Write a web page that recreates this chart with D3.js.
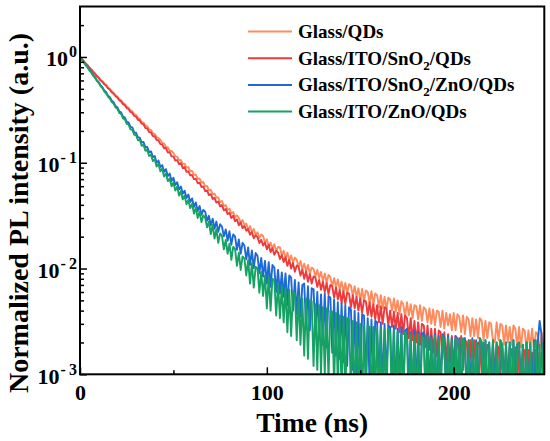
<!DOCTYPE html>
<html><head><meta charset="utf-8">
<script src="https://cdn.jsdelivr.net/npm/d3@7"></script>
<style>
body{margin:0;background:#fff}
text{font-family:"Liberation Serif","Times New Roman",serif;font-weight:bold;fill:#000}
</style>
</head><body>
<svg id="c" width="550" height="441"></svg>
<script>
// ---- data (time step 1 ns, 0..248 ns) ----
const times = d3.range(0, 249, 1);
const seriesNames = ["Glass/QDs", "Glass/ITO/SnO2/QDs", "Glass/ITO/SnO2/ZnO/QDs", "Glass/ITO/ZnO/QDs"];
const seriesColors = ["#FF8A5C", "#EE3A3C", "#1E69D8", "#16A262"];
const glassQDs = [
1.000,0.952,0.917,0.871,0.839,0.795,0.767,0.727,0.701,0.664,
0.643,0.611,0.590,0.561,0.544,0.515,0.499,0.473,0.459,0.435,
0.422,0.400,0.389,0.369,0.359,0.340,0.331,0.313,0.306,0.289,
0.283,0.266,0.260,0.244,0.240,0.225,0.221,0.207,0.204,0.190,
0.187,0.175,0.172,0.165,0.154,0.152,0.141,0.140,0.130,0.129,
0.124,0.115,0.114,0.106,0.106,0.097,0.098,0.090,0.091,0.083,
0.0835,0.0770,0.0772,0.0705,0.0710,0.0650,0.0660,0.0598,0.0603,0.0548,
0.0555,0.0502,0.0510,0.0468,0.0470,0.0425,0.0435,0.0390,0.0398,0.0358,
0.0368,0.0330,0.0342,0.0305,0.0318,0.0302,0.0270,0.0287,0.0258,0.0266,
0.0232,0.0252,0.0222,0.0236,0.0208,0.0220,0.0194,0.0210,0.0203,0.0175,
0.0189,0.0162,0.0176,0.0155,0.0170,0.0146,0.0160,0.0158,0.0134,0.0147,
0.0126,0.0141,0.0120,0.0133,0.0114,0.0127,0.0121,0.0104,0.0118,0.0099,
0.0111,0.0094,0.0108,0.0090,0.0102,0.0099,0.0084,0.0097,0.0081,0.0093,
0.0076,0.0090,0.0073,0.0087,0.0083,0.0068,0.0081,0.0066,0.0079,0.0064,
0.0075,0.0060,0.0073,0.0058,0.0071,0.0069,0.0055,0.0068,0.0054,0.0065,
0.0050,0.0064,0.0049,0.0062,0.0060,0.0047,0.0061,0.0045,0.0058,0.0056,
0.0043,0.0056,0.0042,0.0054,0.0041,0.0053,0.0051,0.0040,0.0052,0.0039,
0.0050,0.0037,0.0049,0.0046,0.0035,0.0048,0.0036,0.0046,0.0034,0.0045,
0.0044,0.0033,0.0045,0.0032,0.0043,0.0041,0.0031,0.0042,0.0030,0.0041,
0.0029,0.0040,0.0039,0.0028,0.0040,0.0027,0.0038,0.0029,0.0037,0.0026,
0.0038,0.0026,0.0037,0.0035,0.0025,0.0036,0.0024,0.0035,0.0033,0.0023,
0.0034,0.0023,0.0033,0.0022,0.0034,0.0032,0.0021,0.0032,0.0022,0.0031,
0.0030,0.0021,0.0020,0.0031,0.0021,0.0030,0.0029,0.0019,0.0029,0.0020,
0.0028,0.0019,0.0029,0.0027,0.0018,0.0028,0.0018,0.0027,0.0026,0.0017,
0.0026,0.0018,0.0027,0.0017,0.0025,0.0024,0.0016,0.0025,0.0019];
const itoSnO2 = [
1.000,0.953,0.914,0.868,0.834,0.791,0.760,0.721,0.694,0.657,
0.632,0.601,0.581,0.551,0.534,0.505,0.490,0.463,0.449,0.425,
0.413,0.390,0.380,0.358,0.350,0.329,0.322,0.302,0.296,0.277,
0.274,0.255,0.251,0.234,0.231,0.213,0.211,0.195,0.194,0.179,
0.178,0.164,0.163,0.150,0.149,0.137,0.138,0.125,0.126,0.115,
0.115,0.105,0.106,0.097,0.099,0.089,0.091,0.082,0.083,0.076,
0.0765,0.0700,0.0705,0.0640,0.0650,0.0590,0.0598,0.0540,0.0548,0.0495,
0.0505,0.0455,0.0465,0.0420,0.0430,0.0387,0.0398,0.0355,0.0366,0.0327,
0.0337,0.0300,0.0316,0.0280,0.0292,0.0256,0.0274,0.0241,0.0253,0.0228,
0.0236,0.0209,0.0221,0.0193,0.0206,0.0198,0.0174,0.0187,0.0165,0.0176,
0.0152,0.0168,0.0143,0.0156,0.0135,0.0147,0.0142,0.0123,0.0134,0.0115,
0.0128,0.0106,0.0121,0.0100,0.0113,0.0093,0.0107,0.0104,0.0086,0.0098,
0.0080,0.0094,0.0075,0.0089,0.0072,0.0084,0.0082,0.0067,0.0078,0.0063,
0.0075,0.0060,0.0073,0.0057,0.0070,0.0068,0.0053,0.0066,0.0051,0.0063,
0.0047,0.0061,0.0046,0.0059,0.0058,0.0043,0.0056,0.0042,0.0054,0.0040,
0.0052,0.0038,0.0050,0.0049,0.0036,0.0048,0.0035,0.0046,0.0033,0.0045,
0.0031,0.0044,0.0030,0.0043,0.0042,0.0029,0.0040,0.0028,0.0039,0.0027,
0.0038,0.0025,0.0037,0.0024,0.0036,0.0034,0.0022,0.0034,0.0021,0.0032,
0.0020,0.0031,0.0019,0.0030,0.0029,0.0018,0.0029,0.0017,0.0027,0.0016,
0.0027,0.0015,0.0026,0.0025,0.0014,0.0025,0.0013,0.0024,0.0013,0.0023,
0.0012,0.0023,0.0022,0.0012,0.0023,0.0011,0.0021,0.0020,0.0011,0.0021,
0.0010,0.0021,0.0011,0.0020,0.0019,0.0010,0.0020,0.0010,0.0019,0.0018,
0.0009,0.0019,0.0010,0.0019,0.0018,0.0009,0.0018,0.0010,0.0017,0.0009,
0.0018,0.0017,0.0009,0.0018,0.0008,0.0017,0.0009,0.0016,0.0017,0.0008,
0.0017,0.0009,0.0016,0.0008,0.0017,0.0016,0.0008,0.0016,0.0009];
const itoSnO2ZnO = [
1.000,0.943,0.898,0.844,0.806,0.755,0.722,0.675,0.647,0.603,
0.579,0.540,0.519,0.483,0.464,0.431,0.416,0.386,0.373,0.344,
0.335,0.306,0.300,0.273,0.269,0.243,0.241,0.218,0.216,0.194,
0.192,0.174,0.173,0.155,0.157,0.140,0.141,0.126,0.128,0.113,
0.116,0.100,0.105,0.091,0.095,0.082,0.087,0.075,0.079,0.067,
0.0720,0.0615,0.0655,0.0560,0.0595,0.0508,0.0545,0.0465,0.0500,0.0425,
0.0460,0.0382,0.0422,0.0350,0.0390,0.0322,0.0358,0.0345,0.0283,0.0315,
0.0256,0.0296,0.0238,0.0278,0.0222,0.0262,0.0248,0.0202,0.0234,0.0183,
0.0225,0.0168,0.0210,0.0200,0.0150,0.0188,0.0138,0.0175,0.0165,0.0122,
0.0158,0.0108,0.0148,0.0101,0.0140,0.0132,0.0090,0.0126,0.0084,0.0118,
0.0072,0.0115,0.0067,0.0108,0.0102,0.0060,0.0097,0.0058,0.0092,0.0054,
0.0090,0.0045,0.0086,0.0082,0.0040,0.0078,0.0037,0.0074,0.0035,0.0070,
0.0072,0.0028,0.0068,0.0026,0.0065,0.0064,0.0024,0.0060,0.0022,0.0057,
0.0019,0.0058,0.0018,0.0055,0.0053,0.0016,0.0051,0.0015,0.0048,0.0014,
0.0047,0.0013,0.0045,0.0012,0.0043,0.0041,0.0011,0.0040,0.0010,0.0038,
0.0009,0.0037,0.0036,0.0010,0.0034,0.0008,0.0033,0.0009,0.0032,0.0031,
0.0008,0.0031,0.0007,0.0030,0.0009,0.0029,0.0028,0.0007,0.0029,0.0006,
0.0027,0.0008,0.0028,0.0006,0.0026,0.0027,0.0007,0.0025,0.0005,0.0026,
0.0007,0.0025,0.0006,0.0024,0.0025,0.0005,0.0024,0.0007,0.0023,0.0006,
0.0024,0.0005,0.0023,0.0007,0.0024,0.0022,0.0006,0.0023,0.0005,0.0022,
0.0006,0.0023,0.0007,0.0022,0.0005,0.0021,0.0022,0.0006,0.0021,0.0007,
0.0022,0.0005,0.0021,0.0006,0.0022,0.0020,0.0007,0.0021,0.0005,0.0020,
0.0006,0.0021,0.0007,0.0020,0.0005,0.0021,0.0019,0.0006,0.0020,0.0007,
0.0020,0.0005,0.0021,0.0006,0.0019,0.0020,0.0007,0.0019,0.0005,0.0020,
0.0006,0.0019,0.0007,0.0021,0.0005,0.0020,0.0032,0.0024,0.0008];
const itoZnO = [
1.000,0.941,0.895,0.839,0.800,0.747,0.714,0.666,0.637,0.594,
0.569,0.530,0.508,0.472,0.454,0.421,0.405,0.375,0.362,0.334,
0.325,0.296,0.290,0.262,0.258,0.233,0.230,0.207,0.205,0.184,
0.183,0.163,0.165,0.145,0.148,0.130,0.133,0.116,0.119,0.104,
0.108,0.092,0.098,0.083,0.088,0.074,0.079,0.067,0.071,0.060,
0.0650,0.0545,0.0595,0.0490,0.0540,0.0450,0.0490,0.0405,0.0445,0.0372,
0.0410,0.0330,0.0375,0.0300,0.0345,0.0275,0.0318,0.0302,0.0245,0.0278,
0.0212,0.0258,0.0192,0.0235,0.0175,0.0215,0.0203,0.0152,0.0186,0.0138,
0.0172,0.0121,0.0160,0.0153,0.0106,0.0141,0.0097,0.0130,0.0124,0.0086,
0.0120,0.0072,0.0112,0.0066,0.0104,0.0100,0.0059,0.0093,0.0055,0.0086,
0.0042,0.0085,0.0040,0.0080,0.0077,0.0036,0.0072,0.0034,0.0068,0.0031,
0.0066,0.0025,0.0063,0.0023,0.0060,0.0058,0.0021,0.0055,0.0019,0.0052,
0.0015,0.0052,0.0014,0.0050,0.0049,0.0012,0.0046,0.0011,0.0045,0.0010,
0.0043,0.0010,0.0042,0.0009,0.0040,0.0039,0.0008,0.0038,0.0008,0.0036,
0.0007,0.0035,0.0006,0.0034,0.0033,0.0007,0.0032,0.0005,0.0031,0.0006,
0.0030,0.0005,0.0029,0.0006,0.0029,0.0028,0.0005,0.0028,0.0006,0.0027,
0.0005,0.0027,0.0004,0.0026,0.0006,0.0027,0.0025,0.0005,0.0026,0.0004,
0.0025,0.0006,0.0024,0.0005,0.0025,0.0023,0.0004,0.0024,0.0006,0.0023,
0.0005,0.0024,0.0004,0.0023,0.0022,0.0006,0.0023,0.0004,0.0022,0.0005,
0.0023,0.0004,0.0022,0.0006,0.0023,0.0021,0.0005,0.0022,0.0004,0.0021,
0.0005,0.0022,0.0006,0.0021,0.0004,0.0022,0.0020,0.0005,0.0021,0.0004,
0.0021,0.0006,0.0020,0.0004,0.0022,0.0020,0.0005,0.0021,0.0004,0.0020,
0.0005,0.0021,0.0004,0.0020,0.0006,0.0021,0.0019,0.0005,0.0020,0.0004,
0.0020,0.0005,0.0021,0.0004,0.0019,0.0020,0.0006,0.0019,0.0004,0.0020,
0.0005,0.0020,0.0004,0.0019,0.0021,0.0005,0.0019,0.0004,0.0020];
const seriesValues = [glassQDs, itoSnO2, itoSnO2ZnO, itoZnO];
const xTicks = [0, 100, 200];
const xMinorTicks = [50, 150];
const yTicks = [1, 0.1, 0.01, 0.001];
const yExponents = ["0", "-1", "-2", "-3"];
const yMinorTicks = [0.002,0.003,0.004,0.005,0.006,0.007,0.008,0.009,
  0.02,0.03,0.04,0.05,0.06,0.07,0.08,0.09,
  0.2,0.3,0.4,0.5,0.6,0.7,0.8,0.9, 2];
const xTitle = "Time (ns)";
const yTitle = "Normalized PL intensity (a.u.)";

// ---- layout ----
const L = 80, R = 544.3, T = 6.5, B = 374.3;
const svg = d3.select("#c");
const x = d3.scaleLinear().domain([0, 248.5]).range([L, R]);
const y = d3.scaleLog().domain([1e-3, 3]).range([B, T]);

svg.append("defs").append("clipPath").attr("id", "clip")
  .append("rect").attr("x", L).attr("y", T).attr("width", R - L).attr("height", B - T);

const line = d3.line().x((d, i) => x(times[i])).y(d => y(d));
const plot = svg.append("g").attr("clip-path", "url(#clip)");
seriesValues.forEach((vals, k) => {
  plot.append("path").datum(vals)
    .attr("d", line).attr("fill", "none")
    .attr("stroke", seriesColors[k]).attr("stroke-width", 1.9)
    .attr("stroke-linejoin", "round");
});

// axes
function styleAxis(g) {
  g.select(".domain").remove();
  g.selectAll(".tick line").attr("stroke", "#000").attr("stroke-width", 1.5);
  g.attr("font-family", null).attr("font-size", null);
}
const gx = svg.append("g").attr("transform", `translate(0,${B})`)
  .call(d3.axisBottom(x).tickValues(xTicks).tickSizeInner(-7).tickSizeOuter(0).tickPadding(10).tickFormat(d3.format("d")))
  .call(styleAxis);
gx.selectAll(".tick text").style("font-size", "22px").attr("fill", "#000");
svg.append("g").attr("transform", `translate(0,${B})`)
  .call(d3.axisBottom(x).tickValues(xMinorTicks).tickSizeInner(-4).tickSizeOuter(0).tickFormat(""))
  .call(styleAxis);

const gy = svg.append("g").attr("transform", `translate(${L},0)`)
  .call(d3.axisLeft(y).tickValues(yTicks).tickSizeInner(-7).tickSizeOuter(0).tickFormat(""))
  .call(styleAxis);
gy.selectAll(".tick text").remove();
gy.selectAll(".tick").each(function(d, i) {
  const t = d3.select(this).append("text")
    .attr("x", -3).attr("y", 9).attr("text-anchor", "end");
  t.append("tspan").style("font-size", "22px").text("10");
  const e = yExponents[i];
  t.append("tspan").style("font-size", "16px").attr("dy", -9).attr("dx", 1)
    .text(e.startsWith("-") ? "-\u2009" + e.slice(1) : e);
});
svg.append("g").attr("transform", `translate(${L},0)`)
  .call(d3.axisLeft(y).tickValues(yMinorTicks).tickSizeInner(-4).tickSizeOuter(0).tickFormat(""))
  .call(styleAxis);

// frame
svg.append("rect").attr("x", L).attr("y", T).attr("width", R - L).attr("height", B - T)
  .attr("fill", "none").attr("stroke", "#000").attr("stroke-width", 2);

// titles
svg.append("text").attr("x", (L + R) / 2).attr("y", 432).attr("text-anchor", "middle")
  .style("font-size", "27.5px").text(xTitle);
svg.append("text").attr("transform", "translate(28,213) rotate(-90)").attr("text-anchor", "middle")
  .style("font-size", "28px").text(yTitle);

// legend
const lg = svg.append("g");
seriesNames.forEach((name, i) => {
  const by = 38 + i * 26.7;
  lg.append("line").attr("x1", 248).attr("x2", 292).attr("y1", by - 6.5).attr("y2", by - 6.5)
    .attr("stroke", seriesColors[i]).attr("stroke-width", 2);
  const t = lg.append("text").attr("x", 298).attr("y", by).style("font-size", "19px");
  const parts = name.split("2");
  parts.forEach((p, j) => {
    if (j > 0) {
      t.append("tspan").style("font-size", "13px").attr("dy", 5).text("2");
      t.append("tspan").attr("dy", -5).text(p);
    } else {
      t.append("tspan").text(p);
    }
  });
});
</script>
</body></html>
